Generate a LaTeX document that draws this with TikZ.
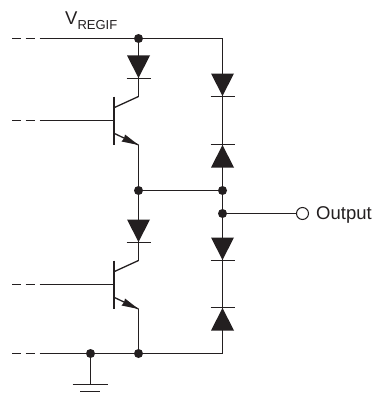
\documentclass[tikz,border=0pt]{standalone}
\usepackage{fontspec}
\setmainfont{Liberation Sans}
\definecolor{ink}{HTML}{231F20}
\tikzset{
  wire/.style={draw=ink,line width=1.3pt},
  dot/.style={circle,fill=ink,inner sep=0pt,minimum size=9pt},
  open/.style={circle,draw=ink,fill=white,line width=1pt,inner sep=0pt,minimum size=12pt},
  lead/.style={wire,dash pattern=on 9pt off 4.5pt on 9pt off 5pt},
  diodedn/.pic={
    \fill[ink] (-11.5,-12) -- (11.5,-12) -- (0,10.5) -- cycle;
    \draw[wire] (-12,11) -- (12,11);
  },
  diodeup/.pic={
    \fill[ink] (-11.5,12) -- (11.5,12) -- (0,-10.5) -- cycle;
    \draw[wire] (-12,-11) -- (12,-11);
  },
  trans/.pic={
    \draw[ink,line width=2pt] (-24.5,-24) -- (-24.5,24);
    \draw[wire] (-24,-13) -- (0,-24);
    \draw[wire] (-24,13) -- (0,24.5);
    \fill[ink] (0,24.5) -- (-13.5,14) -- (-14.5,18) -- (-17,21) -- cycle;
  }
}
\begin{document}
\begin{tikzpicture}[x=1pt,y=-1pt]
  \useasboundingbox (0,0) rectangle (374,396);

  % rails and junctions
  \node[dot] (top) at (138.5,38.5) {};
  \node[dot] (mid) at (138.5,190.5) {};
  \node[dot] (midr) at (222.5,190.5) {};
  \node[dot] (out) at (222.5,213.5) {};
  \node[dot] (bot) at (138.5,353.5) {};
  \node[dot] (gnd) at (90.5,353.5) {};
  \coordinate (topr) at (222.5,38.5);
  \coordinate (botr) at (222.5,353.5);

  % leads on the left
  \coordinate (topl) at (12,38.5);
  \coordinate (topm) at (45,38.5);
  \coordinate (basea) at (12,120.5);
  \coordinate (baseam) at (45,120.5);
  \coordinate (baseae) at (114,120.5);
  \coordinate (baseb) at (12,284.5);
  \coordinate (basebm) at (45,284.5);
  \coordinate (basebe) at (114,284.5);
  \coordinate (botl) at (12,353.5);
  \coordinate (botm) at (45,353.5);
  \draw[lead] (topl) -- (topm);
  \draw[lead] (basea) -- (baseam);
  \draw[lead] (baseb) -- (basebm);
  \draw[lead] (botl) -- (botm);
  \draw[wire] (topm) -- (top) -- (topr) -- (botr) -- (bot) -- (gnd) -- (botm);
  \draw[wire] (baseam) -- (baseae);
  \draw[wire] (basebm) -- (basebe);

  % transistor stacks
  \coordinate (colla) at (138.5,96.5);
  \coordinate (emita) at (138.5,145);
  \coordinate (collb) at (138.5,260.5);
  \coordinate (emitb) at (138.5,309);
  \draw[wire] (top) -- (colla);
  \draw[wire] (emita) -- (mid) -- (collb);
  \draw[wire] (emitb) -- (bot);
  \pic at (138.5,120.5) {trans};
  \pic at (138.5,284.5) {trans};
  \pic at (138.5,67.5) {diodedn};
  \pic at (138.5,231.5) {diodedn};

  % right hand diodes
  \pic at (222.5,85.5) {diodedn};
  \pic at (222.5,155.5) {diodeup};
  \pic at (222.5,249.5) {diodedn};
  \pic at (222.5,318.5) {diodeup};
  \draw[wire] (mid) -- (midr);

  % output
  \node[open] (pin) at (302.5,213.5) {};
  \draw[wire] (out) -- (pin);
  \node[anchor=base west,inner sep=0pt,text=ink,font=\fontsize{18.5pt}{20pt}\selectfont] (outlab) at (316,219.5) {Output};
  \node[anchor=base west,inner sep=0pt,text=ink,font=\fontsize{18.5pt}{20pt}\selectfont] (vreg) at (65,24.5) {V\raisebox{-5pt}{\fontsize{13pt}{14pt}\selectfont REGIF}};

  % ground
  \coordinate (gnda) at (90.5,384.5);
  \coordinate (gndl) at (72.5,384.5);
  \coordinate (gndr) at (107.5,384.5);
  \coordinate (gndsl) at (80,391.5);
  \coordinate (gndsr) at (100,391.5);
  \draw[wire] (gnd) -- (gnda);
  \draw[wire] (gndl) -- (gndr);
  \draw[wire] (gndsl) -- (gndsr);
\end{tikzpicture}
\end{document}
